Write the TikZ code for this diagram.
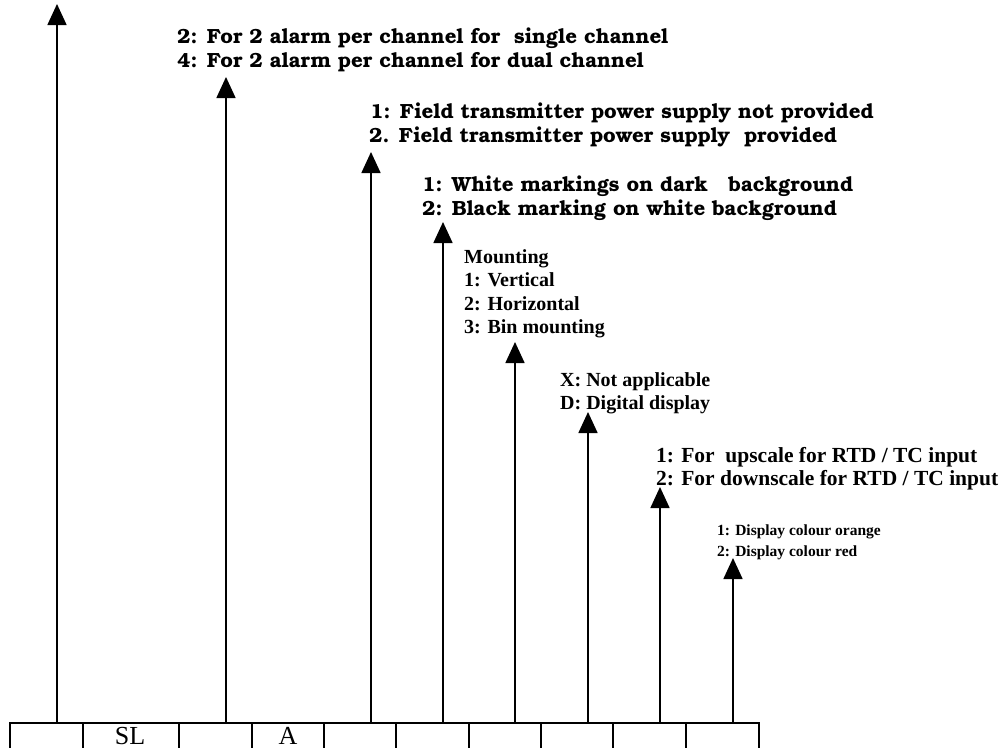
\documentclass[tikz,border=0pt]{standalone}
\usepackage{fontspec}
\setmainfont{Liberation Serif}
\newfontfamily\bkm{texgyrebonum-bold.otf}
\usetikzlibrary{arrows.meta}
\tikzset{
  bk/.style={anchor=base west, inner sep=0pt, font=\bkm\fontsize{20.5}{24}\selectfont},
  tb/.style={anchor=base west, inner sep=0pt, font=\bfseries\fontsize{20}{23}\selectfont},
  tbl/.style={tb, font=\bfseries\fontsize{21.5}{23}\selectfont},
  tbs/.style={tb, font=\bfseries\fontsize{15.5}{18}\selectfont},
  cell/.style={draw, line width=1.5pt, minimum height=30pt, anchor=north west, inner sep=0pt},
  lbl/.style={anchor=base, inner sep=0pt, text depth=0pt, font=\fontsize{26}{28}\selectfont},
  arr/.style={line width=1.6pt, -{Triangle[width=19pt,length=21pt]}}
}
\begin{document}
\begin{tikzpicture}[x=1pt,y=-1pt]
\useasboundingbox (0,0) rectangle (1004,747);
\clip (0,0) rectangle (1004,747);
% boxes
\node[cell, minimum width=73pt] (b1) at (9,722) {};
\node[cell, minimum width=96pt] (b2) at (82,722) {};
\node[cell, minimum width=73pt] (b3) at (178,722) {};
\node[cell, minimum width=72pt] (b4) at (251,722) {};
\node[cell, minimum width=72pt] (b5) at (323,722) {};
\node[cell, minimum width=73pt] (b6) at (395,722) {};
\node[cell, minimum width=72pt] (b7) at (468,722) {};
\node[cell, minimum width=72pt] (b8) at (540,722) {};
\node[cell, minimum width=73pt] (b9) at (612,722) {};
\node[cell, minimum width=73pt] (b10) at (685,722) {};
\node[lbl] (sl) at (130,744) {SL};
\node[lbl] (la) at (288,744) {A};
% arrow tips
\coordinate (p1) at (57,4);
\coordinate (p2) at (226,77);
\coordinate (p3) at (371,152);
\coordinate (p4) at (443,222);
\coordinate (p5) at (515,342);
\coordinate (p6) at (588,412);
\coordinate (p7) at (660,487);
\coordinate (p8) at (733,558);
\draw[arr] (b1.north -| p1) -- (p1);
\draw[arr] (b3.north -| p2) -- (p2);
\draw[arr] (b5.north -| p3) -- (p3);
\draw[arr] (b6.north -| p4) -- (p4);
\draw[arr] (b7.north -| p5) -- (p5);
\draw[arr] (b8.north -| p6) -- (p6);
\draw[arr] (b9.north -| p7) -- (p7);
\draw[arr] (b10.north -| p8) -- (p8);
% texts
\node[bk] (t1a) at (177,43) {2: For 2 alarm per channel for\ \ single channel};
\node[bk] (t1b) at (177,67) {4: For 2 alarm per channel for dual channel};
\node[bk] (t2a) at (370,118) {1: Field transmitter power supply not provided};
\node[bk] (t2b) at (369,142) {2. Field transmitter power supply\ \ provided};
\node[bk] (t3a) at (422,191) {1: White markings on dark\ \ \ background};
\node[bk] (t3b) at (422,215) {2: Black marking on white background};
\node[tb] (t4a) at (464,263) {Mounting};
\node[tb] (t4b) at (464,286) {1: Vertical};
\node[tb] (t4c) at (464,310) {2: Horizontal};
\node[tb] (t4d) at (464,333) {3: Bin mounting};
\node[tb] (t5a) at (560,386) {X: Not applicable};
\node[tb] (t5b) at (560,409) {D: Digital display};
\node[tbl] (t6a) at (656,462) {1: For\ \ upscale for RTD / TC input};
\node[tbl] (t6b) at (656,485) {2: For downscale for RTD / TC input};
\node[tbs] (t7a) at (717,535) {1: Display colour orange};
\node[tbs] (t7b) at (717,556) {2: Display colour red};
\end{tikzpicture}
\end{document}
